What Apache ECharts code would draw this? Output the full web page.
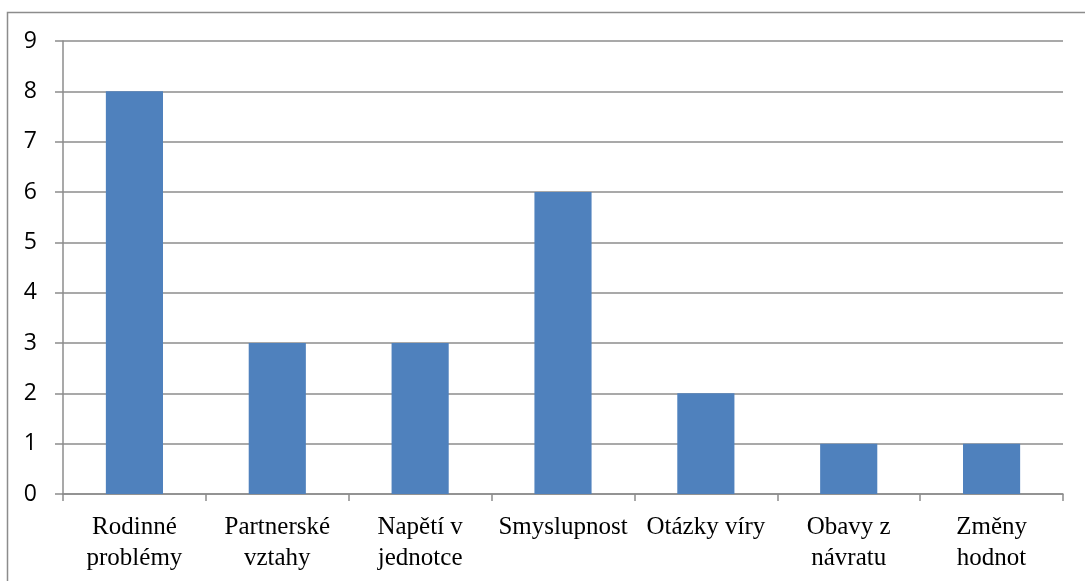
<!DOCTYPE html>
<html>
<head>
<meta charset="utf-8">
<script src="https://cdn.jsdelivr.net/npm/echarts@6/dist/echarts.min.js"></script>
<style>
  html, body { margin: 0; padding: 0; background: #fff; }
  #chart { width: 1085px; height: 581px; }
</style>
</head>
<body>
<div id="chart"></div>
<script>
// data
const categories = ['Rodinné\nproblémy', 'Partnerské\nvztahy', 'Napětí v\njednotce', 'Smyslupnost', 'Otázky víry', 'Obavy z\nnávratu', 'Změny\nhodnot']
const values = [8, 3, 3, 6, 2, 1, 1]
const yTicks = { min: 0, max: 9, interval: 1 }

const chart = echarts.init(document.getElementById('chart'))

chart.setOption({
  animation: false,
  grid: { left: 63, right: 22, top: 41, bottom: 87 },
  // outer frame of the chart area
  graphic: [{
    type: 'rect',
    shape: { x: 7.5, y: 12.5, width: 1100, height: 600 },
    style: { fill: 'none', stroke: '#8c8c8c', lineWidth: 1.5 },
    silent: true
  }],
  xAxis: {
    type: 'category',
    data: categories,
    axisLine: { lineStyle: { color: '#8c8c8c', width: 1.5 } },
    axisTick: { show: true, length: 7, alignWithLabel: false, lineStyle: { color: '#8c8c8c', width: 1.5 } },
    axisLabel: {
      color: '#000',
      fontFamily: 'Liberation Serif',
      fontSize: 25,
      lineHeight: 31,
      margin: 18,
      interval: 0
    }
  },
  yAxis: {
    type: 'value',
    min: yTicks.min,
    max: yTicks.max,
    interval: yTicks.interval,
    axisLine: { show: true, lineStyle: { color: '#8c8c8c', width: 1.5 } },
    axisTick: { show: true, length: 8, lineStyle: { color: '#8c8c8c', width: 1.5 } },
    splitLine: { lineStyle: { color: '#8c8c8c', width: 1.5 } },
    axisLabel: {
      color: '#000',
      fontFamily: 'Open Sans',
      fontSize: 23,
      margin: 26
    }
  },
  series: [{
    type: 'bar',
    data: values,
    barWidth: '40%',
    itemStyle: { color: '#4f81bd' }
  }]
})
</script>
</body>
</html>
